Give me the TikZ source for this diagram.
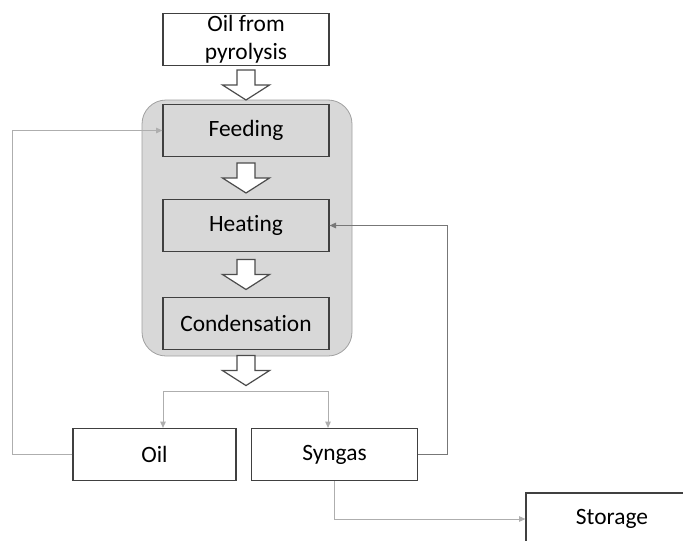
\documentclass[tikz,border=0pt]{standalone}
\usepackage{fontspec}
\setmainfont{Carlito}[Ligatures=NoCommon]
\usetikzlibrary{arrows.meta,calc}
\definecolor{panelgray}{HTML}{D8D8D8}
\definecolor{edgegray}{HTML}{A0A0A0}
\definecolor{lineGA}{HTML}{4A4A4A}

% hollow block arrow centred between two anchors
\newcommand\blockarrow[2]{%
  \coordinate (m) at ($(#1)!0.5!(#2)$);
  \draw[hollow] ($(m)+(-9,-15)$) -- ($(m)+(9,-15)$) -- ($(m)+(9,0)$) -- ($(m)+(23.5,0)$)
    -- ($(m)+(0,15)$) -- ($(m)+(-23.5,0)$) -- ($(m)+(-9,0)$) -- cycle;}

\begin{document}
\begin{tikzpicture}[x=0.5pt,y=-0.5pt,>={Triangle[length=3.2pt,width=2.8pt]},
  box/.style={draw=black!75,fill=white,line width=0.6pt,minimum width=83pt,minimum height=26pt,
    inner sep=0pt,align=center,font=\fontsize{11.7}{14}\selectfont},
  stage/.style={box,fill=panelgray},
  link/.style={draw=lineGA!75,line width=0.5pt},
  faint/.style={draw=lineGA!45,line width=0.5pt},
  hollow/.style={draw=black!70,fill=white,line width=0.6pt}]
  \clip (0,0) rectangle (683,540);
  % process unit
  \node[draw=edgegray,fill=panelgray,rounded corners=12pt,minimum width=105pt,minimum height=128pt] (unit) at (247,228) {};
  \node[box] (pyro) at (246,39.5) {Oil from\\pyrolysis};
  \node[stage] (feed) at (246,130.5) {Feeding};
  \node[stage] (heat) at (246,225.5) {Heating};
  \node[stage] (cond) at (246,323.5) {Condensation};
  % products
  \node[box,minimum width=81.5pt] (oil) at (154.5,454.5) {Oil};
  \node[box] (syngas) at (334.5,454.5) {Syngas};
  \node[box,minimum width=86pt] (storage) at (612,519) {Storage};
  \coordinate (split) at (246,391);
  \blockarrow{pyro.south}{feed.north}
  \blockarrow{feed.south}{heat.north}
  \blockarrow{heat.south}{cond.north}
  \blockarrow{cond.south}{split}
  \draw[faint,->] (split) -| ([xshift=4.25pt]oil.north);
  \draw[faint,->] (split) -| ([xshift=-3.25pt]syngas.north);
  \draw[faint,->] (oil.west) -- ++(-30pt,0) |- (feed.west);
  \draw[link,->] (syngas.east) -- ++(14.5pt,0) |- (heat.east);
  \draw[faint,->] (syngas.south) |- (storage.west);
\end{tikzpicture}
\end{document}
